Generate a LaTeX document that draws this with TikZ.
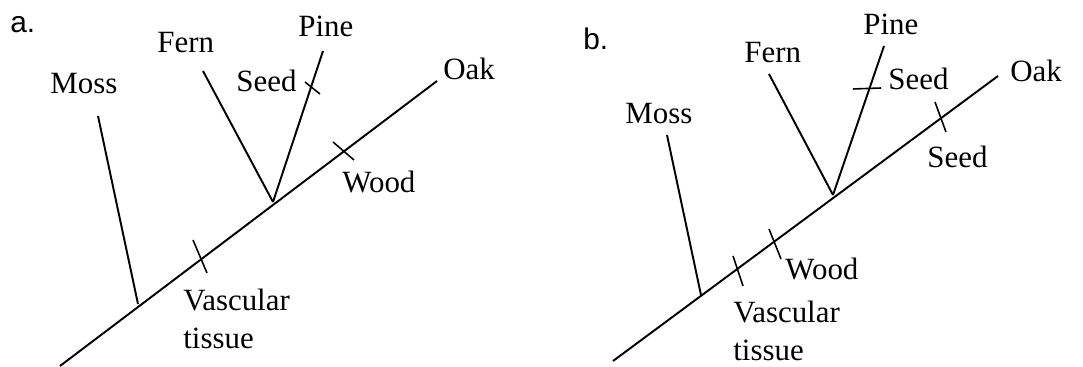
\documentclass[tikz,border=0pt]{standalone}
\usepackage{fontspec}
\setmainfont{Liberation Serif}
\setsansfont{Liberation Sans}

\begin{document}
\begin{tikzpicture}[x=0.02cm, y=-0.02cm,
    branch/.style={line width=1.1pt},
    tick/.style={line width=0.9pt},
    taxon/.style={anchor=base west, inner sep=0pt, font=\fontsize{17.6}{19}\selectfont},
    trait/.style={anchor=base west, inner sep=0pt, align=left, font=\fontsize{17.6}{21.6}\selectfont},
    panel/.style={anchor=base west, inner sep=0pt, font=\sffamily\fontsize{17}{19}\selectfont}]
    \useasboundingbox (0,0) rectangle (1083,367);

    % Tree a
    \node[panel] (alabel) at (10,33) {a.};
    \coordinate (aroot) at (60,366);
    \coordinate (aoak) at (437,81);
    \coordinate (amossj) at (138,304);
    \coordinate (amoss) at (98,116);
    \coordinate (afpj) at (273,202);
    \coordinate (afern) at (203,71);
    \coordinate (apine) at (323,51);
    \draw[branch] (aroot) -- (aoak);
    \draw[branch] (amossj) -- (amoss);
    \draw[branch] (afpj) -- (afern);
    \draw[branch] (afpj) -- (apine);
    % Traits on tree a
    \draw[tick] (193,240) -- (207,273);
    \draw[tick] (333,142) -- (354,160);
    \draw[tick] (305,82) -- (320,94);
    \node[taxon] (amosst) at (50,94) {Moss};
    \node[taxon] (afernt) at (157,53) {Fern};
    \node[taxon] (apinet) at (298,37) {Pine};
    \node[taxon] (aoakt) at (443,80) {Oak};
    \node[trait] (aseed) at (236,92) {Seed};
    \node[trait] (awood) at (342,193) {Wood};
    \node[trait, anchor=north west] (avasc) at (183,289) {Vascular\\tissue};

    % Tree b
    \node[panel] (blabel) at (583,50) {b.};
    \coordinate (broot) at (613,361);
    \coordinate (boak) at (998,76);
    \coordinate (bmossj) at (701,295);
    \coordinate (bmoss) at (667,135);
    \coordinate (bfpj) at (833,195);
    \coordinate (bfern) at (769,74);
    \coordinate (bpine) at (884,46);
    \draw[branch] (broot) -- (boak);
    \draw[branch] (bmossj) -- (bmoss);
    \draw[branch] (bfpj) -- (bfern);
    \draw[branch] (bfpj) -- (bpine);
    % Traits on tree b
    \draw[tick] (733,256) -- (743,286);
    \draw[tick] (769,229) -- (781,259);
    \draw[tick] (935,102) -- (946,132);
    \draw[tick] (853,89) -- (881,88);
    \node[taxon] (bmosst) at (625,124) {Moss};
    \node[taxon] (bfernt) at (744,63) {Fern};
    \node[taxon] (bpinet) at (863,35) {Pine};
    \node[taxon] (boakt) at (1010,82) {Oak};
    \node[trait] (bseedp) at (888,90) {Seed};
    \node[trait] (bseedo) at (927,168) {Seed};
    \node[trait] (bwood) at (785,280) {Wood};
    \node[trait, anchor=north west] (bvasc) at (733,301) {Vascular\\tissue};
\end{tikzpicture}
\end{document}
